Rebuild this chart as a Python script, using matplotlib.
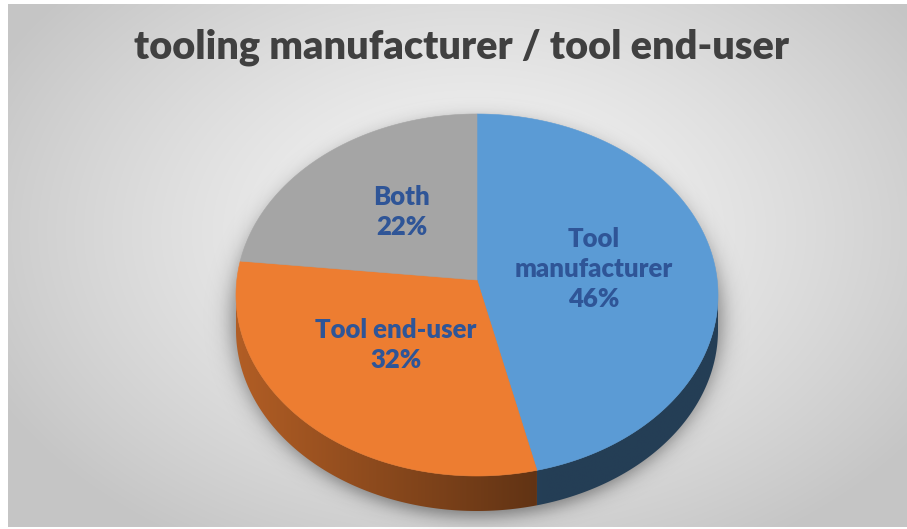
import numpy as np
import matplotlib
matplotlib.use('Agg')
from matplotlib import pyplot as plt
from matplotlib.patches import Polygon

# survey split
categories = ['Tool manufacturer', 'Tool end-user', 'Both']
label_texts = ['Tool\nmanufacturer', 'Tool end-user', 'Both']
shares = [46, 32, 22]
colors = ['#5B9BD5', '#ED7D31', '#A5A5A5']
title = 'tooling manufacturer / tool end-user'

W, H = 907, 529
cx, cy = 477, 295        # centre of the top ellipse
rx, ry = 241, 181
apex = (477, 280)
depth = 35


def ell(theta, dy=0):
    t = np.radians(theta)
    return cx + rx * np.cos(t), cy - ry * np.sin(t) + dy


fig = plt.figure(figsize=(W / 100, H / 100), dpi=100)
fig.patch.set_facecolor('white')
ax = fig.add_axes([0, 0, 1, 1])
ax.set_xlim(0, W)
ax.set_ylim(H, 0)
ax.axis('off')

# radial grey background
yy, xx = np.mgrid[0:H, 0:W] + 0.5
r = np.sqrt(((xx - 470) / 540) ** 2 + ((yy - 230) / 370) ** 2)
r = np.clip(r, 0, 1)
lum = 0.965 - 0.19 * r ** 1.3
bg = np.dstack([lum, lum, lum])
ax.imshow(bg, extent=[8, W, 527, 4], zorder=0, interpolation='bilinear')

# soft shadow under the pie
scx, scy = cx, cy + depth * 0.5 + 6
srx, sry = rx + 4, ry + depth * 0.5
rr = np.sqrt(((xx - scx) / srx) ** 2 + ((yy - scy) / sry) ** 2)
dist = (rr - 1) * np.minimum(srx, sry) * 1.1
alpha = 0.42 / (1 + np.exp(dist / 5.5))
shadow = np.zeros((H, W, 4))
shadow[..., 3] = alpha
ax.imshow(shadow, extent=[0, W, H, 0], zorder=1, interpolation='bilinear')

# wedge angles, clockwise from 12 o'clock
fracs = np.array(shares) / sum(shares)
ends = 90 - 360 * np.cumsum(fracs)
starts = np.concatenate([[90], ends[:-1]])


def side_shade(x):
    return np.interp(x, [236, 545], [0.75, 0.40])


# sides (front half only)
for s, e, col in zip(starts, ends, colors):
    lo, hi = e % 360, e % 360 + (s - e)
    for a, b in [(180, 360), (540, 720)]:
        t0, t1 = max(lo, a), min(hi, b)
        if t1 <= t0:
            continue
        th = np.linspace(t0, t1, 200)
        tx, ty = ell(th)
        bx, by = ell(th[::-1], depth)
        verts = np.column_stack([np.concatenate([tx, bx]), np.concatenate([ty, by])])
        poly = Polygon(verts, closed=True, facecolor='none', edgecolor='none', zorder=2)
        ax.add_patch(poly)
        x0, x1 = verts[:, 0].min() - 1, verts[:, 0].max() + 1
        y0, y1 = verts[:, 1].min() - 1, verts[:, 1].max() + 1
        xs = np.linspace(x0, x1, 400)
        base = np.array(matplotlib.colors.to_rgb(col))
        grad = side_shade(xs)[None, :, None] * base[None, None, :]
        grad = np.repeat(grad, 2, axis=0)
        im = ax.imshow(grad, extent=[x0, x1, y1, y0], zorder=2, interpolation='bilinear')
        im.set_clip_path(poly)

# top faces
for s, e, col in zip(starts, ends, colors):
    th = np.linspace(s, e, 300)
    px, py = ell(th)
    verts = np.column_stack([np.concatenate([[apex[0]], px]), np.concatenate([[apex[1]], py])])
    ax.add_patch(Polygon(verts, closed=True, facecolor=col, edgecolor=col, lw=0.4, zorder=3))

# data labels
for s, e, txt, val in zip(starts, ends, label_texts, shares):
    mid = np.radians((s + e) / 2)
    lx = apex[0] + 0.49 * rx * np.cos(mid)
    ly = apex[1] - 0.49 * ry * np.sin(mid)
    ax.text(lx, ly, '%s\n%d%%' % (txt, val), ha='center', va='center',
            fontsize=18.5, fontweight='heavy', color='#2F5597', family='Lato',
            linespacing=1.3, zorder=5)

ax.text(462, 47, title, ha='center', va='center', fontsize=28.5,
        fontweight='heavy', color='#404040', family='Lato', zorder=5)

fig.savefig('out.png', dpi=100, facecolor=fig.get_facecolor())
